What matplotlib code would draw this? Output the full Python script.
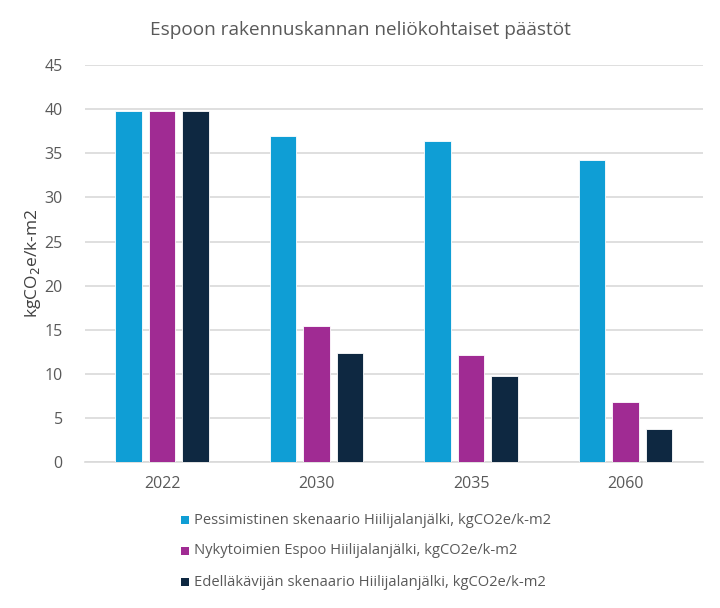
import matplotlib
matplotlib.use("Agg")
import matplotlib.pyplot as plt
import numpy as np
from matplotlib.patches import Rectangle

categories = ["2022", "2030", "2035", "2060"]
series_names = [
    "Pessimistinen skenaario Hiilijalanjälki, kgCO2e/k-m2",
    "Nykytoimien Espoo Hiilijalanjälki, kgCO2e/k-m2",
    "Edelläkävijän skenaario Hiilijalanjälki, kgCO2e/k-m2",
]
pessimistinen = [39.8, 37.0, 36.4, 34.2]
nykytoimien = [39.8, 15.4, 12.1, 6.8]
edellakavijan = [39.8, 12.4, 9.8, 3.8]
yticks = [0, 5, 10, 15, 20, 25, 30, 35, 40, 45]

colors = ["#0F9ED5", "#A02B93", "#0E2841"]
text_color = "#595959"

plt.rcParams['font.family'] = ['Open Sans', 'DejaVu Sans']

fig = plt.figure(figsize=(7.2, 6.08), dpi=100)
ax = fig.add_axes([0.118, 0.240, 0.858, 0.653])

x = np.arange(len(categories))
width = 0.172
step = 0.217
for i, (vals, c, name) in enumerate(zip([pessimistinen, nykytoimien, edellakavijan], colors, series_names)):
    ax.bar(x + (i - 1) * step, vals, width, color=c, edgecolor="white", linewidth=0.6, label=name, zorder=3)

ax.set_xlim(-0.5, len(categories) - 0.5)
ax.set_ylim(0, 45)
ax.set_yticks(yticks)
ax.set_xticks(x)
ax.set_xticklabels(categories, fontsize=11.5, color=text_color)
ax.tick_params(axis='y', labelsize=11.5, colors=text_color, length=0, pad=16)
ax.tick_params(axis='x', length=0, pad=10)
ax.grid(axis='y', color="#D9D9D9", linewidth=1.2, zorder=0)
for s in ["top", "right", "left"]:
    ax.spines[s].set_visible(False)
ax.spines["bottom"].set_color("#D9D9D9")
ax.spines["bottom"].set_linewidth(1.2)

ax.set_ylabel("kgCO$_2$e/k-m2", fontsize=12.5, color="#404040")
ax.yaxis.set_label_coords(-0.068, 0.5)

fig.text(0.5, 1 - 30 / 608, "Espoon rakennuskannan neliökohtaiset päästöt", ha="center", va="center",
         fontsize=13.7, color=text_color)

# legend
leg_y = [1 - 520 / 608, 1 - 551 / 608, 1 - 582 / 608]
for yy, c, name in zip(leg_y, colors, series_names):
    fig.patches.append(Rectangle((181 / 720, yy - 4 / 608), 8 / 720, 8 / 608, transform=fig.transFigure,
                                 facecolor=c, edgecolor="none"))
    fig.text(194 / 720, yy, name, ha="left", va="center", fontsize=10.6, color=text_color)

fig.savefig("out.png", dpi=100)
